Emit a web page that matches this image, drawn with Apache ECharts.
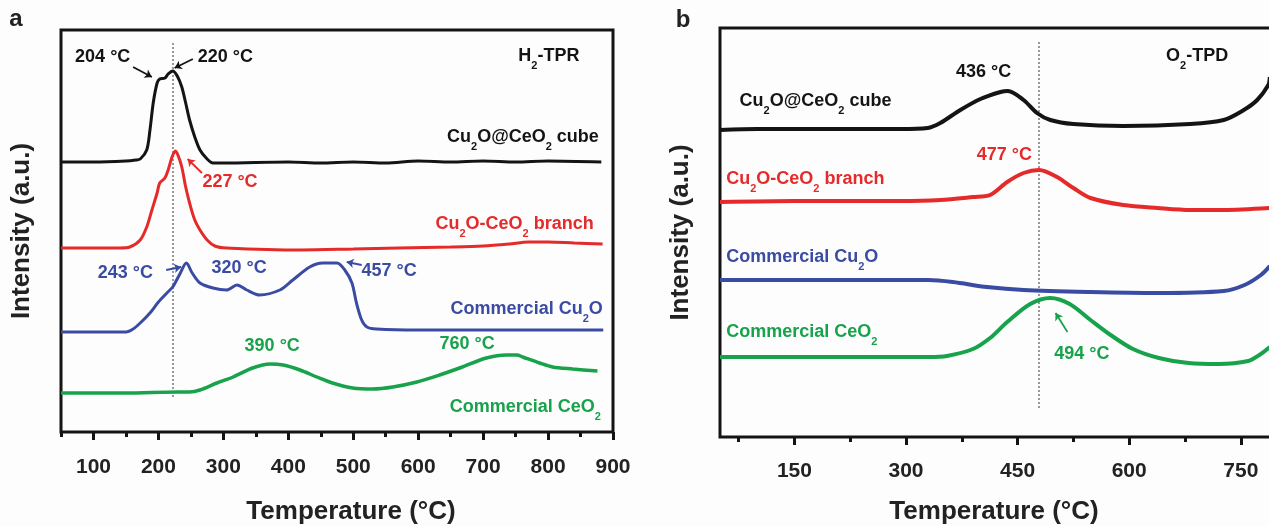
<!DOCTYPE html>
<html><head><meta charset="utf-8">
<script src="https://cdn.jsdelivr.net/npm/echarts@6/dist/echarts.min.js"></script>
<style>html,body{margin:0;padding:0;background:#fdfdfd}#c{width:1269px;height:526px}</style>
</head><body><div id="c"></div>
<script>
// ---------- tick labels ----------
const tprTicks = [100, 200, 300, 400, 500, 600, 700, 800, 900];
const tprMinorTicks = [50, 150, 250, 350, 450, 550, 650, 750, 850];
const tpdTicks = [150, 300, 450, 600, 750];
const tpdMinorTicks = [75, 225, 375, 525, 675];

// ---------- (a) H2-TPR series : [temperature °C, intensity a.u.] ----------
const cubeTPR = [[50,270],[100,270],[150,271],[165,272],[172,273],[182,282],[187,302],[192,329],[198,349],[202,353],[210,354],[215,358],[222,361],[229,356],[236,345],[242,329],[248,312],[256,295],[264,282],[275,273],[284,269],[300,269],[400,270],[450,269],[500,270],[550,269],[600,271],[650,270],[700,271],[750,270],[800,271],[882,270]];
const branchTPR = [[50,184],[100,184],[140,184],[156,185],[172,192],[182,205],[190,222],[198,239],[202,249],[210,254],[215,262],[221,275],[226,281],[230,277],[236,265],[242,245],[248,229],[256,212],[264,202],[275,192],[287,186],[305,184],[420,182],[500,183],[570,184],[650,185],[700,186],[740,188],[770,190],[800,190],[840,189],[884,188]];
const cu2oTPR = [[50,100],[100,100],[150,100],[161,103],[172,109],[187,119],[200,130],[213,139],[222,145],[233,158],[243,169],[252,159],[264,149],[284,144],[305,142],[321,147],[336,142],[356,137],[387,142],[407,152],[433,165],[453,169],[475,169],[487,162],[498,149],[505,129],[513,112],[521,105],[536,103],[600,102],[700,102],[800,102],[885,102]];
const ceo2TPR = [[50,39],[150,39],[230,40],[248,40],[264,42],[290,49],[315,55],[345,64],[372,68],[392,67],[418,62],[444,55],[468,49],[499,44],[530,43],[561,45],[598,50],[633,57],[668,65],[705,74],[736,77],[752,77],[761,75],[787,69],[807,65],[838,63],[876,61]];

// ---------- (b) O2-TPD series ----------
const cubeTPD = [[50,307],[100,308],[158,308],[230,308],[292,308],[329,309],[346,314],[373,327],[400,338],[427,345],[437,346],[458,337],[476,324],[494,317],[525,313],[592,311],[682,313],[727,317],[754,327],[772,337],[787,352],[789,360]];
const branchTPD = [[50,235],[150,236],[292,236],[346,237],[390,240],[413,242],[436,255],[458,264],[479,267],[503,260],[525,249],[548,239],[592,232],[638,229],[682,227],[727,227],[789,229]];
const cu2oTPD = [[50,157],[150,157],[250,157],[330,157],[363,155],[409,150],[458,147],[548,145],[638,144],[727,146],[755,152],[777,162],[789,171]];
const ceo2TPD = [[50,80],[150,80],[250,80],[330,80],[355,81],[390,88],[413,99],[436,115],[467,133],[494,139],[520,133],[548,117],[575,102],[605,88],[640,79],[680,74],[720,73],[760,76],[775,82],[789,90]];

// ---------- styles ----------
const FONT = '"Liberation Sans", Arial, sans-serif';
const K = '#141414', R = '#e52a2a', B = '#3a4ba3', G = '#17a24b', TXT = '#222';

// ---------- annotations (data coordinates) ----------
const notesTPR = [
  {t:'204 °C', x:115, y:374, c:K},
  {t:'220 °C', x:304, y:374, c:K},
  {t:'H{s|2}-TPR', x:802, y:375, c:K},
  {t:'Cu{s|2}O@CeO{s|2} cube', x:879, y:294, c:K, a:'right'},
  {t:'227 °C', x:311, y:249, c:R},
  {t:'Cu{s|2}O-CeO{s|2} branch', x:871, y:207, c:R, a:'right'},
  {t:'243 °C', x:150, y:158, c:B},
  {t:'320 °C', x:325, y:163, c:B},
  {t:'457 °C', x:556, y:160, c:B},
  {t:'Commercial Cu{s|2}O', x:885, y:122, c:B, a:'right'},
  {t:'390 °C', x:376, y:85, c:G},
  {t:'760 °C', x:676, y:87, c:G},
  {t:'Commercial CeO{s|2}', x:882, y:24, c:G, a:'right'}
];
const notesTPD = [
  {t:'436 °C', x:405, y:364, c:K},
  {t:'O{s|2}-TPD', x:692, y:380, c:K},
  {t:'Cu{s|2}O@CeO{s|2} cube', x:77, y:335, c:K, a:'left'},
  {t:'477 °C', x:433, y:281, c:R},
  {t:'Cu{s|2}O-CeO{s|2} branch', x:59, y:257, c:R, a:'left'},
  {t:'Commercial Cu{s|2}O', x:59, y:179, c:B, a:'left'},
  {t:'Commercial CeO{s|2}', x:59, y:104, c:G, a:'left'},
  {t:'494 °C', x:537, y:82, c:G}
];
const arrowsTPR = [
  {p:[[161,365],[190,355]], c:K},
  {p:[[253,373],[225,364]], c:K},
  {p:[[267,259],[245,273]], c:R},
  {p:[[212,162],[235,165]], c:B},
  {p:[[513,167],[490,170]], c:B}
];
const arrowsTPD = [
  {p:[[517,105],[501,124]], c:G}
];
const guideTPR = [[222,35],[222,389]];
const guideTPD = [[479,29],[479,397]];

function noteData(list) {
  return list.map(n => ({
    value: [n.x, n.y],
    label: {
      formatter: n.t, color: n.c, align: n.a || 'center',
      rich: { s: { fontSize: 11, fontWeight: 'bold', fontFamily: FONT, color: n.c, lineHeight: 10, verticalAlign: 'bottom' } }
    }
  }));
}
function noteSeries(list, xi, yi) {
  return {
    type: 'scatter', xAxisIndex: xi, yAxisIndex: yi, silent: true, z: 5,
    symbol: 'circle', symbolSize: 1, itemStyle: { color: '#fdfdfd', opacity: 1 },
    label: { show: true, position: [0, 0], verticalAlign: 'middle', fontSize: 18, fontWeight: 'bold', fontFamily: FONT, lineHeight: 30, opacity: 1, textBorderWidth: 0 },
    data: noteData(list)
  };
}
function arrowSeries(list, xi, yi) {
  return {
    type: 'lines', coordinateSystem: 'cartesian2d', xAxisIndex: xi, yAxisIndex: yi, silent: true, z: 5,
    symbol: ['none', 'arrow'], symbolSize: 7,
    lineStyle: { opacity: 1 },
    data: list.map(a => ({ coords: a.p, lineStyle: { color: a.c, width: 1.8, opacity: 1 } }))
  };
}
function guideSeries(coords, xi, yi) {
  return {
    type: 'lines', coordinateSystem: 'cartesian2d', xAxisIndex: xi, yAxisIndex: yi, silent: true, z: 1,
    symbol: 'none', lineStyle: { color: '#777', width: 1.5, type: [2, 2], opacity: 1 },
    data: [{ coords: coords }]
  };
}
function curve(data, color, xi, yi, w) {
  return { type: 'line', data: data, xAxisIndex: xi, yAxisIndex: yi, symbol: 'none', smooth: 0.3,
    lineStyle: { color: color, width: w }, itemStyle: { color: color }, z: 3, silent: true };
}
function majorAxis(grid, min, max, ticks, name, gap, pad, margin) {
  return {
    type: 'value', gridIndex: grid, min: min, max: max, position: 'bottom',
    axisLine: { show: false }, splitLine: { show: false },
    axisTick: { show: true, customValues: ticks, length: 8, lineStyle: { color: K, width: 3 } },
    axisLabel: { show: true, customValues: ticks, margin: margin, fontSize: 21, fontWeight: 'bold', fontFamily: FONT, color: TXT },
    name: name, nameLocation: 'middle', nameGap: gap,
    nameTextStyle: { fontSize: 26, fontWeight: 'bold', fontFamily: FONT, color: TXT, padding: pad }
  };
}
function minorAxis(grid, min, max, ticks) {
  return {
    type: 'value', gridIndex: grid, min: min, max: max, position: 'bottom',
    axisLine: { show: false }, splitLine: { show: false }, axisLabel: { show: false },
    axisTick: { show: true, customValues: ticks, length: 5, lineStyle: { color: K, width: 3 } }
  };
}
function yAxisFor(grid, max) {
  return {
    type: 'value', gridIndex: grid, min: 0, max: max,
    axisLine: { show: false }, axisTick: { show: false }, axisLabel: { show: false }, splitLine: { show: false },
    name: 'Intensity (a.u.)', nameLocation: 'middle', nameGap: 26,
    nameTextStyle: { fontSize: 26, fontWeight: 'bold', fontFamily: FONT, color: TXT }
  };
}

const chart = echarts.init(document.getElementById('c'), null, { renderer: 'canvas' });
chart.setOption({
  backgroundColor: '#fdfdfd',
  animation: false,
  grid: [
    { left: 61, top: 30, width: 552, height: 402, show: true, borderColor: K, borderWidth: 3, backgroundColor: 'transparent', containLabel: false, outerBoundsMode: 'none' },
    { left: 720, top: 28, width: 558, height: 409, show: true, borderColor: K, borderWidth: 3, backgroundColor: 'transparent', containLabel: false, outerBoundsMode: 'none' }
  ],
  xAxis: [
    majorAxis(0, 50, 900, tprTicks, 'Temperature (°C)', 67, [0, 0, 0, 28], 25),
    minorAxis(0, 50, 900, tprMinorTicks),
    majorAxis(1, 50, 800, tpdTicks, 'Temperature (°C)', 62, [0, 10, 0, 0], 24),
    minorAxis(1, 50, 800, tpdMinorTicks)
  ],
  yAxis: [ yAxisFor(0, 402), yAxisFor(1, 409) ],
  graphic: [
    { type: 'text', x: 16, y: 19, style: { text: 'a', fontSize: 24, fontWeight: 'bold', fontFamily: FONT, fill: TXT, align: 'center', verticalAlign: 'middle' } },
    { type: 'text', x: 683, y: 20, style: { text: 'b', fontSize: 24, fontWeight: 'bold', fontFamily: FONT, fill: TXT, align: 'center', verticalAlign: 'middle' } }
  ],
  series: [
    guideSeries(guideTPR, 0, 0),
    curve(cubeTPR, K, 0, 0, 3),
    curve(branchTPR, R, 0, 0, 3),
    curve(cu2oTPR, B, 0, 0, 3),
    curve(ceo2TPR, G, 0, 0, 3.5),
    noteSeries(notesTPR, 0, 0),
    arrowSeries(arrowsTPR, 0, 0),
    guideSeries(guideTPD, 2, 1),
    curve(cubeTPD, K, 2, 1, 4),
    curve(branchTPD, R, 2, 1, 4),
    curve(cu2oTPD, B, 2, 1, 4),
    curve(ceo2TPD, G, 2, 1, 4),
    noteSeries(notesTPD, 2, 1),
    arrowSeries(arrowsTPD, 2, 1)
  ]
});
</script>
</body></html>
